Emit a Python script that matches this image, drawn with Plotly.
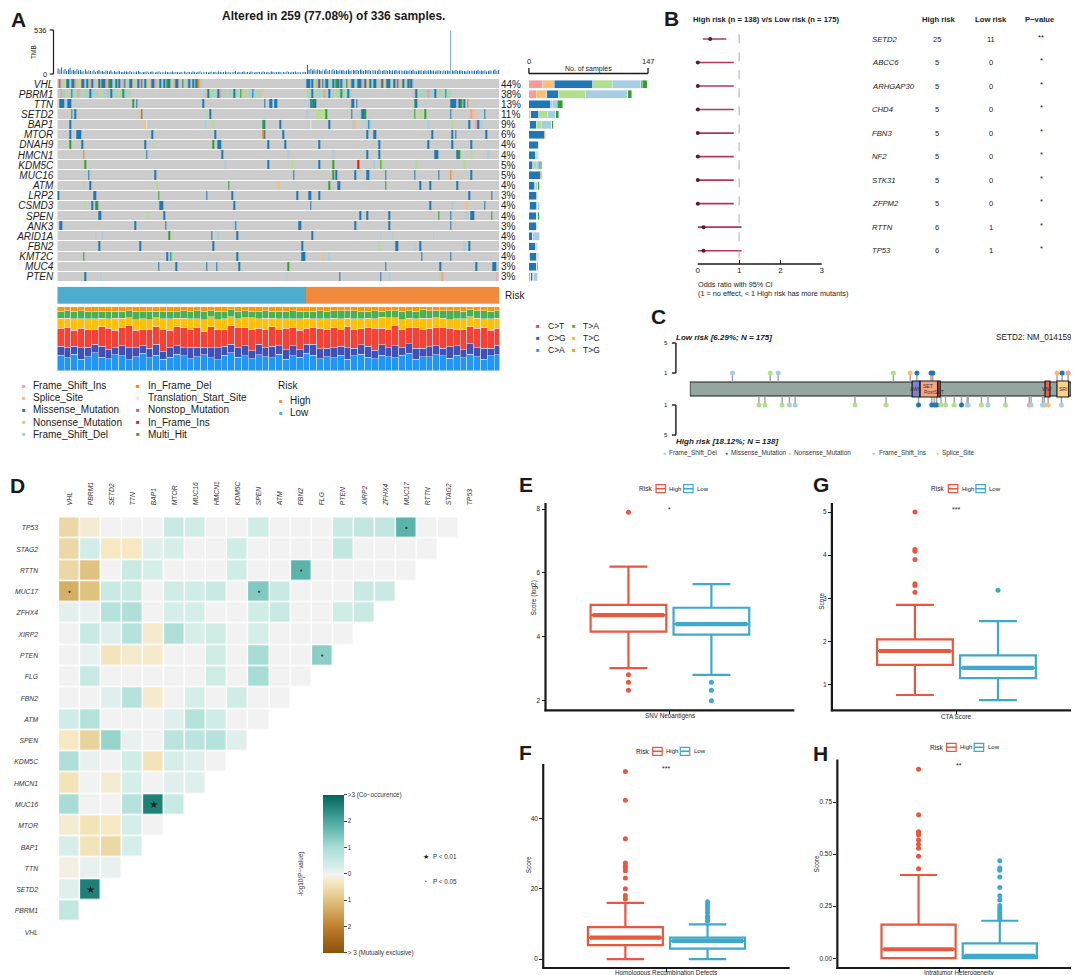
import plotly.graph_objects as go

W, H = 1079, 975
FONT = "Liberation Sans, Arial, sans-serif"
BLACK = "#1a1a1a"

# ======================= DATA =======================
# ---- Panel A : oncoplot ----
genes_a = ["VHL", "PBRM1", "TTN", "SETD2", "BAP1", "MTOR", "DNAH9", "HMCN1", "KDM5C", "MUC16",
           "ATM", "LRP2", "CSMD3", "SPEN", "ANK3", "ARID1A", "FBN2", "KMT2C", "MUC4", "PTEN"]
pct_a = ["44%", "38%", "13%", "11%", "9%", "6%", "4%", "4%", "5%", "5%",
         "4%", "3%", "4%", "4%", "3%", "4%", "3%", "4%", "3%", "3%"]
n_low_a, n_high_a = 146, 113

type_codes = ["I", "S", "M", "N", "D", "F", "R", "O", "T", "H"]
type_names = ["Frame_Shift_Ins", "Splice_Site", "Missense_Mutation", "Nonsense_Mutation", "Frame_Shift_Del",
              "In_Frame_Del", "In_Frame_Ins", "Nonstop_Mutation", "Translation_Start_Site", "Multi_Hit"]
type_colors = ["#FB9A99", "#FDBF6F", "#1F78B4", "#B2DF8A", "#A6CEE3",
               "#FF7F00", "#E31A1C", "#C9566F", "#EFE6EA", "#33A02C"]

vhl_runs = [(0, "IMDSNMMDHMIDNSMMDMNIMDDSMNMMIDHMDNMSMDIMNDMMSDNMIMDMNSDMMIDNMDMSHMDNIMMDSMNDIMDMNMFSD"),
            (146, "MMDMNDIMSMDMMNDMDHMIMDNMSDMMDNMMIDMSNMDMMDNIMSDMMNDMIMDSMNDMFMD")]
pbrm1_runs = [(0, "DNIDDSNDMDNDIDNSDDNMDDNDSDNDDIDMNDDSNDHDDND"),
              (86, "DSMNDDNDMIDNDSDDNMDDNHDSDNDDMDNDDS"),
              (146, "NDDMNSDDNDIDNMDDSNDDHDNDMD"),
              (208, "DIMNDSDDNIDDNMDSDNDHDND")]
ttn_cells = [(1, "M"), (2, "M"), (3, "M"), (5, "D"), (6, "M"), (7, "M"), (44, "H"), (46, "M"), (85, "M"),
             (121, "M"), (124, "M"), (125, "M"), (126, "D"), (127, "M"), (128, "M"), (147, "D"), (148, "M"),
             (149, "H"), (150, "M"), (151, "M"), (172, "M"), (173, "M"), (175, "M"), (209, "H"), (210, "M"),
             (230, "M"), (231, "M"), (232, "M"), (233, "M"), (235, "M"), (236, "H"), (238, "M"), (240, "F")]
setd2_cells = [(8, "H"), (9, "D"), (10, "M"), (48, "S"), (49, "M"), (87, "N"), (89, "M"), (146, "D"),
               (152, "N"), (153, "N"), (154, "N"), (156, "N"), (157, "H"), (172, "M"), (177, "D"), (178, "M"),
               (179, "M"), (180, "H"), (209, "H"), (212, "N"), (213, "N"), (215, "H"), (230, "M"), (242, "I"),
               (243, "S"), (250, "M")]
bap1_cells = [(7, "M"), (51, "S"), (52, "T"), (53, "D"), (86, "D"), (91, "N"), (120, "H"), (121, "M"),
              (130, "M"), (148, "T"), (159, "M"), (173, "D"), (174, "S"), (181, "D"), (182, "M"), (183, "D"),
              (217, "D"), (231, "N"), (241, "M"), (245, "I"), (246, "M"), (248, "D")]
mtor_cells = [(7, "M"), (11, "M"), (12, "M"), (13, "M"), (55, "M"), (92, "M"), (120, "F"), (121, "M"),
              (132, "M"), (181, "M"), (185, "M"), (186, "M"), (219, "M"), (231, "M"), (233, "M"), (251, "M")]
dnah9_cells = [(7, "H"), (14, "M"), (51, "M"), (56, "N"), (91, "H"), (94, "M"), (95, "M"), (123, "M"),
               (133, "M"), (153, "M"), (188, "M"), (217, "M"), (231, "M"), (242, "M")]
hmcn1_cells = [(15, "F"), (52, "M"), (96, "M"), (135, "D"), (161, "D"), (181, "M"), (188, "M"), (221, "M"),
               (222, "M"), (234, "M"), (235, "H"), (242, "N"), (252, "D")]
kdm5c_cells = [(16, "H"), (98, "D"), (123, "M"), (137, "N"), (153, "M"), (161, "H"), (176, "R"), (185, "D"),
               (189, "H"), (190, "N"), (210, "N"), (238, "N")]
muc16_cells = [(18, "M"), (57, "M"), (138, "M"), (161, "H"), (163, "M"), (174, "M"), (181, "M"), (182, "M"),
               (192, "M"), (209, "M"), (223, "M"), (230, "F"), (242, "M")]
atm_cells = [(15, "D"), (19, "M"), (58, "N"), (100, "H"), (129, "S"), (159, "H"), (164, "M"), (165, "M"),
             (192, "H"), (212, "M"), (218, "M"), (234, "M")]
lrp2_cells = [(0, "M"), (21, "M"), (22, "M"), (59, "H"), (87, "M"), (102, "M"), (140, "M"), (147, "M"),
              (148, "M"), (153, "M"), (241, "M"), (254, "M")]
csmd3_cells = [(16, "N"), (20, "M"), (22, "M"), (23, "H"), (60, "M"), (61, "M"), (103, "M"), (148, "M"),
               (218, "M"), (231, "D"), (239, "S"), (250, "M")]
spen_cells = [(24, "M"), (25, "M"), (53, "N"), (62, "M"), (177, "M"), (181, "M"), (194, "M"), (223, "H"),
              (230, "M"), (239, "D"), (242, "M"), (243, "M"), (254, "H")]
ank3_cells = [(1, "M"), (2, "M"), (45, "M"), (63, "M"), (103, "D"), (104, "M"), (141, "M"), (142, "M"),
              (174, "M"), (194, "M"), (230, "M")]
arid1a_cells = [(22, "D"), (26, "D"), (65, "H"), (90, "M"), (94, "D"), (105, "M"), (149, "M"), (189, "D"),
                (196, "D"), (220, "D")]
fbn2_cells = [(24, "M"), (48, "M"), (91, "M"), (143, "M"), (188, "N"), (198, "M"), (199, "M"), (209, "D"),
              (212, "M"), (238, "D"), (241, "M")]
kmt2c_cells = [(15, "H"), (64, "M"), (66, "M"), (67, "N"), (105, "M"), (143, "M"), (144, "M"), (155, "S"),
               (159, "D"), (213, "M"), (230, "M")]
muc4_cells = [(59, "M"), (69, "M"), (87, "M"), (93, "M"), (106, "M"), (135, "H"), (192, "M"), (224, "M"),
              (245, "M"), (255, "M"), (256, "M")]
pten_cells = [(16, "M"), (25, "D"), (134, "D"), (165, "M"), (189, "M"), (194, "D"), (224, "N"), (225, "I"),
              (257, "I")]

# side bar counts (per mutation type, gene order as genes_a)
bar_I = [17, 9, 0, 0, 1, 0, 0, 0, 0, 0, 0, 0, 0, 0, 0, 0, 0, 0, 0, 2]
bar_S = [14, 13, 0, 2, 0, 0, 0, 0, 0, 0, 0, 0, 1, 0, 0, 0, 0, 1, 0, 0]
bar_M = [48, 14, 27, 10, 8, 19, 12, 8, 5, 14, 7, 10, 9, 9, 10, 4, 8, 8, 10, 3]
bar_N = [24, 34, 2, 11, 6, 0, 0, 1, 4, 0, 1, 1, 1, 1, 0, 1, 1, 2, 0, 1]
bar_D = [35, 52, 6, 10, 13, 0, 0, 2, 4, 0, 3, 0, 2, 1, 1, 8, 2, 1, 0, 5]
bar_F = [2, 0, 0, 0, 0, 1, 0, 1, 0, 1, 0, 0, 0, 0, 0, 0, 0, 0, 0, 0]
bar_R = [0, 0, 0, 0, 0, 0, 0, 0, 1, 0, 0, 0, 0, 0, 0, 0, 0, 0, 0, 0]
bar_O = [0] * 20
bar_T = [0] * 20
bar_H = [6, 5, 7, 4, 2, 0, 1, 1, 2, 1, 2, 0, 0, 2, 0, 0, 0, 1, 1, 0]

tmb_low = [70, 55, 80, 48, 62, 40, 58, 75, 45, 52,
           38, 60, 44, 50, 35, 42, 57, 33, 46, 40,
           36, 48, 30, 41, 52, 34, 39, 28, 45, 37,
           31, 43, 29, 38, 26, 35, 41, 30, 27, 36,
           33, 25, 38, 29, 34, 24, 31, 40, 27, 22,
           30, 26, 35, 23, 28, 32, 25, 21, 29, 34,
           24, 27, 22, 31, 26, 20, 28, 33, 23, 25,
           30, 21, 27, 24, 35, 22, 26, 29, 20, 31,
           25, 23, 28, 34, 21, 26, 24, 30, 22, 27,
           36, 25, 29, 23, 31, 26, 22, 28, 33, 24,
           27, 21, 30, 25, 38, 23, 26, 22, 29, 32,
           24, 28, 21, 35, 26, 23, 30, 25, 27, 22,
           31, 26, 24, 29, 23, 34, 27, 22, 28, 25,
           30, 24, 26, 21, 33, 27, 23, 29, 25, 31,
           22, 28, 24, 26, 30, 27]
tmb_high = [110, 52, 65, 48, 58, 44, 60, 50, 42, 55,
            47, 62, 40, 53, 46, 57, 43, 51, 38, 49,
            45, 54, 41, 48, 56, 39, 47, 52, 44, 50,
            42, 58, 46, 40, 53, 45, 49, 37, 51, 43,
            48, 41, 55, 44, 39, 50, 46, 42, 52, 38,
            47, 43, 49, 40, 45, 51, 37, 44, 48, 41,
            46, 39, 50, 42, 36, 47, 43, 53, 40, 45,
            38, 44, 49, 41, 46, 35, 43, 47, 39, 42,
            45, 40, 48, 37, 536, 44, 41, 50, 38, 43,
            46, 39, 42, 36, 47, 40, 44, 38, 45, 41,
            49, 37, 43, 40, 46, 35, 42, 48, 39, 44,
            60, 41, 50]

# mutational spectrum (% per block of 4 samples)
sp_CA = [24, 20, 26, 18, 22, 28, 21, 19, 25, 23, 17, 22, 27,
         20, 24, 18, 21, 26, 23, 19, 22, 25, 20, 17, 24, 28,
         21, 23, 19, 25, 22, 20, 26, 18, 23, 21, 27, 24, 19,
         22, 20, 24, 18, 23, 26, 21, 19, 25, 22, 20, 24, 27,
         18, 22, 21, 25, 23, 19, 24, 20, 26, 22, 18, 23, 25]
sp_CG = [14, 16, 12, 18, 15, 13, 17, 14, 12, 16, 19, 14, 13,
         15, 17, 12, 16, 14, 13, 18, 15, 12, 16, 19, 14, 13,
         15, 17, 12, 16, 14, 18, 13, 15, 16, 12, 14, 17, 15,
         13, 16, 14, 18, 12, 15, 17, 13, 16, 14, 19, 12, 15,
         17, 13, 16, 14, 12, 18, 15, 13, 16, 14, 17, 12, 15]
sp_CT = [28, 32, 25, 30, 27, 24, 31, 33, 26, 29, 34, 27, 25,
         30, 28, 35, 26, 29, 31, 27, 30, 24, 33, 28, 26, 29,
         32, 27, 34, 25, 29, 31, 26, 33, 28, 30, 25, 27, 32,
         29, 31, 27, 33, 29, 26, 30, 34, 27, 29, 31, 28, 25,
         32, 30, 27, 29, 33, 28, 26, 31, 27, 30, 32, 28, 26]
sp_TC = [16, 14, 18, 15, 17, 16, 13, 15, 19, 14, 13, 17, 16,
         15, 14, 16, 18, 13, 15, 17, 14, 19, 15, 16, 17, 14,
         13, 16, 18, 15, 17, 13, 16, 15, 14, 18, 16, 13, 15,
         17, 15, 16, 13, 17, 16, 14, 15, 17, 18, 13, 16, 15,
         14, 17, 16, 15, 14, 13, 16, 17, 15, 16, 14, 18, 16]
sp_TA = [11, 12, 12, 13, 12, 12, 11, 12, 11, 11, 11, 13, 12,
         13, 10, 12, 12, 11, 12, 12, 13, 12, 10, 13, 12, 11,
         12, 11, 10, 12, 12, 11, 12, 12, 13, 12, 11, 12, 13,
         12, 12, 13, 12, 13, 11, 11, 13, 10, 11, 11, 13, 12,
         12, 13, 12, 11, 12, 14, 13, 12, 11, 12, 13, 12, 12]
sp_TG = [7, 6, 7, 6, 7, 7, 7, 7, 7, 7, 6, 7, 7,
         7, 7, 7, 7, 7, 6, 7, 6, 8, 6, 7, 7, 5,
         7, 6, 7, 7, 6, 7, 7, 7, 6, 7, 7, 7, 6,
         7, 6, 6, 6, 6, 8, 7, 6, 7, 6, 6, 7, 6,
         7, 5, 6, 6, 6, 6, 6, 7, 5, 6, 6, 7, 6]
spec_names = ["C>T", "C>G", "C>A", "T>A", "T>C", "T>G"]
spec_colors = {"C>T": "#F44336", "C>G": "#3F51B5", "C>A": "#2196F3",
               "T>A": "#4CAF50", "T>C": "#FFC107", "T>G": "#FF9800"}

# ---- Panel B : forest ----
forest_genes = ["SETD2", "ABCC6", "ARHGAP30", "CHD4", "FBN3", "NF2", "STK31", "ZFPM2", "RTTN", "TP53"]
forest_or = [0.30, 0, 0, 0, 0, 0, 0, 0, 0.14, 0.14]
forest_lo = [0.12, 0, 0, 0, 0, 0, 0, 0, 0, 0]
forest_hi = [0.69, 0.87, 0.87, 0.87, 0.87, 0.87, 0.87, 0.87, 1.06, 1.06]
forest_high_n = [25, 5, 5, 5, 5, 5, 5, 5, 6, 6]
forest_low_n = [11, 0, 0, 0, 0, 0, 0, 0, 1, 1]
forest_p = ["**", "*", "*", "*", "*", "*", "*", "*", "*", "*"]

# ---- Panel C : lollipop ----
prot_len = 2564
dom_names = ["AWS", "SET", "PostSET", "WW", "SRI"]
dom_start = [1495, 1549, 1668, 2389, 2469]
dom_end = [1547, 1666, 1684, 2422, 2548]
dom_colors = ["#7B82D2", "#F4A582", "#D8504A", "#E8604C", "#F6D28C"]
low_pos = [287, 541, 594, 1369, 1482, 1527, 1622, 1634, 2470, 2504, 2544]
low_type = ["D", "N", "D", "N", "S", "M", "M", "M", "S", "M", "I"]
high_pos = [465, 505, 621, 670, 708, 1111, 1320, 1538, 1627, 1645, 1660, 1689, 1720, 1778, 1827,
            1865, 1872, 1961, 2005, 2123, 2283, 2295, 2372, 2384, 2410, 2499]
high_type = ["N", "N", "N", "D", "D", "N", "N", "M", "M", "M", "M", "N", "N", "N", "M",
             "D", "D", "N", "D", "N", "I", "D", "D", "D", "S", "D"]

# ---- Panel D : co-occurrence ----
genes_d = ["VHL", "PBRM1", "SETD2", "TTN", "BAP1", "MTOR", "MUC16", "HMCN1", "KDM5C", "SPEN",
           "ATM", "FBN2", "FLG", "PTEN", "XIRP2", "ZFHX4", "MUC17", "RTTN", "STAG2", "TP53"]
# rows from top (TP53) down to PBRM1; values for columns VHL... (signed -log10 P)
cooc_rows = [
    [-0.6, -0.2, 0, 0, 0, 0.5, 0.4, 0, 0, 0.4, 0, 0, 0, 0.5, 0.6, 0.6, 1.8, 0, 0],
    [-0.6, 0.35, -0.3, -0.3, 0.2, 0.3, 0, 0, 0.4, 0, 0, 0, 0, 0.6, 0, 0, 0, 0],
    [-0.6, -1.0, 0, 0.5, 0.3, 0, 0, 0, 0.4, 0, 0, 1.8, 0, 0, 0, 0, 0],
    [-1.3, -1.0, 0.5, 0.5, 0, 0.4, 0.4, 0.5, 0, 1.4, 0.5, 0, 0, 0, 0.5, 0.5],
    [0.15, 0.1, 0.8, 0.9, 0, 0.3, 0.3, 0, 0, 0.4, 0.5, 0, 0, 0.4, 0.5],
    [0, 0.5, 0.2, 0.8, -0.25, 0.9, 0.3, 0.4, 0, 0.3, 0, 0, 0, 0],
    [0, 0.1, -0.35, -0.25, -0.25, 0, 0, 0.4, 0, 1.0, 0, 0, 1.3],
    [0, 0.5, 0, 0, 0, 0, 0, 0.4, 0, 1.0, 0, 0],
    [0, 0, 0.2, 0.8, -0.25, 0, 0.3, 0, 0.4, 0, 0],
    [0.4, 0.8, 0, 0, 0, 0.2, 0.8, 0.4, 0, 0],
    [-0.3, -0.7, 1.2, 0.1, 0, 0.7, 0.7, 0.8, 0.2],
    [0.9, 0.1, 0, 0.4, -0.4, 0.3, 0.2, 0],
    [-0.4, 0, -0.2, 0.3, 0, 0.2, 0.2],
    [1.0, 0, 0, 0.8, 2.6, 0.5],
    [-0.2, -0.4, -0.3, 0.3, 0],
    [0.3, -0.4, -0.6, 0.3],
    [-0.1, 0.1, 0.1],
    [0.2, 2.6],
    [0.6],
]
sig01_col = [4, 1]
sig01_row = [6, 2]
sig05_col = [16, 11, 0, 9, 12]
sig05_row = [19, 17, 16, 16, 13]

# ---- Panels E-H : boxplot summary statistics (High, Low) ----
e_stats = dict(q1=[4.16, 4.07], med=[4.68, 4.40], q3=[5.0, 4.91], lo=[3.02, 2.81], hi=[6.2, 5.65])
e_out_high = [7.9, 2.81, 2.58, 2.33]
e_out_low = [2.58, 2.33, 2.0]
g_stats = dict(q1=[1.46, 1.15], med=[1.78, 1.39], q3=[2.05, 1.68], lo=[0.76, 0.64], hi=[2.85, 2.47])
g_out_high = [5.0, 4.13, 4.09, 3.9, 3.34, 3.3, 3.14]
g_out_low = [3.19]
f_stats = dict(q1=[3.95, 3.0], med=[6.1, 5.2], q3=[9.1, 6.1], lo=[0, 0], hi=[16.0, 9.9])
f_out_high = [53.4, 45.2, 34.2, 27.3, 26.5, 25.9, 25.1, 23.1, 20.0, 18.1, 17.1]
f_out_low = [16.3, 15.5, 14.8, 14.0, 13.2, 12.2, 11.6, 10.8]
h_stats = dict(q1=[0, 0], med=[0.043, 0.011], q3=[0.161, 0.071], lo=[0, 0], hi=[0.40, 0.18])
h_out_high = [0.908, 0.69, 0.608, 0.60, 0.592, 0.568, 0.548, 0.529, 0.49, 0.43]
h_out_low = [0.469, 0.434, 0.423, 0.39, 0.34, 0.30, 0.28, 0.253, 0.24, 0.229, 0.216, 0.205, 0.194, 0.185]

LOW_C, HIGH_C = "#4DADCF", "#F28A3E"
BOX_HIGH, BOX_LOW = "#E8573E", "#3FA9CD"
FOREST_C = "#B3365B"

# ======================= FIGURE =======================
fig = go.Figure()
layout = dict(width=W, height=H, margin=dict(l=0, r=0, t=0, b=0), paper_bgcolor="white",
              plot_bgcolor="rgba(0,0,0,0)", showlegend=False, barmode="stack",
              font=dict(family=FONT, color=BLACK))
ann, shp = [], []


def axname(n, letter):
    return f"{letter}axis" if n == 1 else f"{letter}axis{n}"


def ref(n, letter):
    return letter if n == 1 else f"{letter}{n}"


def set_axes(n, xdom, ydom, xa=None, ya=None):
    base = dict(showgrid=False, zeroline=False, showticklabels=False, showline=False, ticks="", fixedrange=True)
    xd = dict(base, domain=[xdom[0] / W, xdom[1] / W], anchor=ref(n, "y"))
    yd = dict(base, domain=[1 - ydom[1] / H, 1 - ydom[0] / H], anchor=ref(n, "x"))
    if xa:
        xd.update(xa)
    if ya:
        yd.update(ya)
    layout[axname(n, "x")] = xd
    layout[axname(n, "y")] = yd


def text(x, y, s, size, xanchor="center", yanchor="middle", color=BLACK, angle=0, xref="paper", yref="paper"):
    xx = x / W if xref == "paper" else x
    yy = 1 - y / H if yref == "paper" else y
    ann.append(dict(x=xx, y=yy, xref=xref, yref=yref, text=s, showarrow=False, xanchor=xanchor,
                    yanchor=yanchor, textangle=angle, borderpad=0,
                    font=dict(size=size, color=color, family=FONT)))


def pline(x0, y0, x1, y1, color=BLACK, width=1.0, dash=None):
    shp.append(dict(type="line", xref="paper", yref="paper", x0=x0 / W, x1=x1 / W, y0=1 - y0 / H,
                    y1=1 - y1 / H, line=dict(color=color, width=width, dash=dash)))


def prect(x0, y0, x1, y1, line_color, fill="white", width=1.0):
    shp.append(dict(type="rect", xref="paper", yref="paper", x0=x0 / W, x1=x1 / W, y0=1 - y1 / H,
                    y1=1 - y0 / H, line=dict(color=line_color, width=width), fillcolor=fill))


code_color = dict(zip(type_codes, type_colors))
N_A = n_low_a + n_high_a
samples = list(range(N_A))

# ---------------- Panel A ----------------
text(9, 11, "<b>A</b>", 21)
text(325, 8, "<b>Altered in 259 (77.08%) of 336 samples.</b>", 12)

# TMB
set_axes(1, (47.5, 491.7), (22, 66), xa=dict(range=[-0.5, N_A - 0.5]), ya=dict(range=[0, 536]))
fig.add_trace(go.Bar(x=samples, y=tmb_low + tmb_high, width=0.85, marker=dict(color="#1F78B4"),
                     xaxis="x", yaxis="y", hoverinfo="skip"))
pline(43.7, 22, 43.7, 66, width=1.2)
pline(40, 22, 43.7, 22, width=1.2)
pline(40, 66, 43.7, 66, width=1.2)
text(38, 22, "536", 7.5, xanchor="right")
text(38, 66, "0", 7.5, xanchor="right")
text(23, 44, "TMB", 6.5, angle=-90)

# oncoplot matrix
code_index = {c: i + 1 for i, c in enumerate(type_codes)}
z_onco = [[0] * N_A for _ in genes_a]
for start, s in vhl_runs:
    for k, ch in enumerate(s):
        z_onco[0][start + k] = code_index[ch]
for start, s in pbrm1_runs:
    for k, ch in enumerate(s):
        z_onco[1][start + k] = code_index[ch]
other_cells = [ttn_cells, setd2_cells, bap1_cells, mtor_cells, dnah9_cells, hmcn1_cells, kdm5c_cells,
               muc16_cells, atm_cells, lrp2_cells, csmd3_cells, spen_cells, ank3_cells, arid1a_cells,
               fbn2_cells, kmt2c_cells, muc4_cells, pten_cells]
for gi, cells in enumerate(other_cells, start=2):
    for idx, ch in cells:
        z_onco[gi][idx] = code_index[ch]

onco_colors = ["#CCCCCC"] + type_colors
nc = len(onco_colors)
cs = []
for k, c in enumerate(onco_colors):
    cs += [[k / nc, c], [(k + 1) / nc, c]]
set_axes(2, (47.5, 491.7), (71, 274), xa=dict(range=[-0.5, N_A - 0.5]),
         ya=dict(range=[len(genes_a) - 0.5, -0.5], showticklabels=True, tickvals=list(range(len(genes_a))),
                 ticktext=[f"<i>{g}</i>" for g in genes_a], tickfont=dict(size=10, color=BLACK),
                 ticklabelstandoff=3))
fig.add_trace(go.Heatmap(z=z_onco, x=samples, y=list(range(len(genes_a))), colorscale=cs, zmin=-0.5,
                         zmax=nc - 0.5, showscale=False, ygap=1, xgap=0, xaxis="x2", yaxis="y2",
                         hoverinfo="skip"))
for r, p in enumerate(pct_a):
    text(492.5, r, p, 10, xanchor="left", xref="paper", yref="y2")

# side bar
set_axes(3, (521.3, 641), (71, 274), xa=dict(range=[0, 147]), ya=dict(range=[len(genes_a) - 0.5, -0.5]))
bar_counts = [bar_I, bar_S, bar_M, bar_N, bar_D, bar_F, bar_R, bar_O, bar_T, bar_H]
for code, counts in zip(type_codes, bar_counts):
    fig.add_trace(go.Bar(y=list(range(len(genes_a))), x=counts, orientation="h", width=0.78,
                         marker=dict(color=code_color[code]), xaxis="x3", yaxis="y3", hoverinfo="skip"))
pline(521.3, 65.5, 641, 65.5, width=1.3)
pline(521.3, 60, 521.3, 65.5, width=1.3)
pline(641, 60, 641, 65.5, width=1.3)
text(521.3, 53.5, "0", 7.5)
text(641, 53.5, "147", 7.5)
text(581, 60.5, "No. of samples", 7)

# risk bar
set_axes(4, (47.5, 491.7), (278.7, 296), xa=dict(range=[-0.5, N_A - 0.5]), ya=dict(range=[-0.5, 0.5]))
fig.add_trace(go.Heatmap(z=[[0] * n_low_a + [1] * n_high_a], x=samples, y=[0],
                         colorscale=[[0, LOW_C], [0.5, LOW_C], [0.5, HIGH_C], [1, HIGH_C]], zmin=0, zmax=1,
                         showscale=False, xaxis="x4", yaxis="y4", hoverinfo="skip"))
text(496, 287.5, "Risk", 10, xanchor="left")

# spectrum
set_axes(5, (47.5, 491.7), (298.7, 362.7), xa=dict(range=[-0.5, N_A - 0.5]), ya=dict(range=[0, 100]))
nb = len(sp_CA)
bx = [4 * k + 1.5 for k in range(nb)]
tot = [sp_CA[k] + sp_CG[k] + sp_CT[k] + sp_TC[k] + sp_TA[k] + sp_TG[k] for k in range(nb)]
for name, vals in [("C>A", sp_CA), ("C>G", sp_CG), ("C>T", sp_CT), ("T>C", sp_TC), ("T>A", sp_TA),
                   ("T>G", sp_TG)]:
    fig.add_trace(go.Bar(x=bx, y=[v / t * 100 for v, t in zip(vals, tot)], width=4,
                         marker=dict(color=spec_colors[name]), xaxis="x5", yaxis="y5", hoverinfo="skip"))
for i, name in enumerate(spec_names):
    col = i // 3
    row = i % 3
    yy = [317.7, 330, 341.7][row]
    sx = 530.5 if col == 0 else 566.5
    text(sx, yy, "■", 6, color=spec_colors[name])
    text(sx + 8.5, yy, name, 8.5, xanchor="left")

# mutation legend
order1 = ["Frame_Shift_Ins", "Splice_Site", "Missense_Mutation", "Nonsense_Mutation", "Frame_Shift_Del"]
order2 = ["In_Frame_Del", "Translation_Start_Site", "Nonstop_Mutation", "In_Frame_Ins", "Multi_Hit"]
for nm, colr in zip(type_names, type_colors):
    if nm in order1:
        sx, row = 13.6, order1.index(nm)
    else:
        sx, row = 129, order2.index(nm)
    yy = 377.7 + 12.1 * row
    text(sx, yy, "■", 6, color=colr)
    text(sx + 8.5, yy, nm, 10, xanchor="left")
text(268.6, 377.2, "Risk", 10, xanchor="left")
text(272, 392.7, "■", 6, color=HIGH_C)
text(280.6, 392.7, "High", 10, xanchor="left")
text(272, 404.7, "■", 6, color=LOW_C)
text(280.6, 404.7, "Low", 10, xanchor="left")

# ---------------- Panel B ----------------
text(664.5, 10.5, "<b>B</b>", 21)
nf = len(forest_genes)
set_axes(6, (691, 815.5), (19.24, 256),
         xa=dict(range=[0, 3], ticks="inside", ticklen=4, tickcolor=BLACK, tickwidth=1.3,
                 showticklabels=True, tickvals=[0, 1, 2, 3], tickfont=dict(size=8, color=BLACK)),
         ya=dict(range=[nf - 0.434, -0.5]))
pline(691, 256, 815.5, 256, width=1.5)
shp.append(dict(type="line", xref="x6", yref="y6", x0=1, x1=1, y0=-0.2, y1=nf - 0.7,
                line=dict(color="#AAAAAA", width=1, dash="dash")))
fig.add_trace(go.Scatter(x=forest_or, y=list(range(nf)), mode="markers",
                         marker=dict(size=4, color="#5C1A2E"),
                         error_x=dict(type="data", symmetric=False,
                                      array=[h - o for h, o in zip(forest_hi, forest_or)],
                                      arrayminus=[o - l for o, l in zip(forest_or, forest_lo)],
                                      color=FOREST_C, thickness=1.6, width=0),
                         cliponaxis=False, xaxis="x6", yaxis="y6", hoverinfo="skip"))
text(685, 11.3, "<b>High risk (n = 138) v/s Low risk (n = 175)</b>", 7.7, xanchor="left")
text(933, 11.3, "<b>High risk</b>", 7.7)
text(986, 11.3, "<b>Low risk</b>", 7.7)
text(1035, 11.3, "<b>P\u2212value</b>", 7.7)
for i in range(nf):
    text(865, i, f"<i>{forest_genes[i]}</i>", 7.7, xanchor="left", yref="y6")
    text(931, i, str(forest_high_n[i]), 7.5, yref="y6")
    text(986, i, str(forest_low_n[i]), 7.5, yref="y6")
    text(1036, i - 0.08, forest_p[i], 7.5, yref="y6")
text(690, 276.7, "Odds ratio with 95% CI", 7.3, xanchor="left")
text(690, 285.7, "(1 = no effect, < 1 High risk has more mutants)", 7.3, xanchor="left")

# ---------------- Panel C ----------------
text(651.5, 309, "<b>C</b>", 21)
HB, DB, OFF = 0.933, 1.067, 1.133
set_axes(7, (683, 1066), (329, 433), xa=dict(range=[0, prot_len]), ya=dict(range=[-6.933, 6.933]))
sx_, sy_ = [], []
for p in low_pos:
    sx_ += [p, p, None]
    sy_ += [HB, OFF + 1, None]
for p in high_pos:
    sx_ += [p, p, None]
    sy_ += [-HB, -(OFF + 1), None]
fig.add_trace(go.Scatter(x=sx_, y=sy_, mode="lines", line=dict(color="#A0A0A0", width=1.4),
                         xaxis="x7", yaxis="y7", hoverinfo="skip"))
shp.append(dict(type="rect", xref="x7", yref="y7", x0=0, x1=prot_len, y0=-HB, y1=HB,
                fillcolor="#95A6A0", line=dict(color=BLACK, width=1.2), layer="below"))
for nm, a, b, c in zip(dom_names, dom_start, dom_end, dom_colors):
    shp.append(dict(type="rect", xref="x7", yref="y7", x0=a, x1=b, y0=-DB, y1=DB,
                    fillcolor=c, line=dict(color=BLACK, width=1.2)))
fig.add_trace(go.Scatter(x=low_pos + high_pos, y=[OFF + 1] * len(low_pos) + [-(OFF + 1)] * len(high_pos),
                         mode="markers",
                         marker=dict(size=5, color=[code_color[t] for t in low_type + high_type]),
                         cliponaxis=False, xaxis="x7", yaxis="y7", hoverinfo="skip"))
text(1519, 0.0, "AWS", 5, xref="x7", yref="y7", color="#333333")
text(1600, 0.45, "SET", 5, xref="x7", yref="y7", color="#333333")
text(1640, -0.4, "PostSET", 5, xref="x7", yref="y7", color="#333333")
text(2405, 0.0, "WW", 5, xref="x7", yref="y7", color="#333333")
text(2508, 0.0, "SRI", 5, xref="x7", yref="y7", color="#333333")
text(1070.5, 394, "2564", 5, angle=-90, color="#333333")
for sgn in (1, -1):
    shp.append(dict(type="line", xref="paper", yref="y7", x0=669 / W, x1=669 / W,
                    y0=sgn * (OFF + 1), y1=sgn * (OFF + 5), line=dict(color=BLACK, width=1.4)))
    for c in (1, 5):
        shp.append(dict(type="line", xref="paper", yref="y7", x0=665 / W, x1=669 / W,
                        y0=sgn * (OFF + c), y1=sgn * (OFF + c), line=dict(color=BLACK, width=1.4)))
        text(659, sgn * (OFF + c), str(c), 6, yref="y7")
text(668, 329, "<b><i>Low risk [6.29%; N = 175]</i></b>", 8, xanchor="left")
text(1068, 329.3, "SETD2: NM_014159", 8.2, xanchor="right")
text(668, 433.5, "<b><i>High risk [18.12%; N = 138]</i></b>", 8, xanchor="left")
for code, dx, tx, lab in [("D", 657.7, 661.5, "Frame_Shift_Del"), ("M", 720, 723.5, "Missense_Mutation"),
                          ("N", 782.7, 786.5, "Nonsense_Mutation"), ("I", 868, 872, "Frame_Shift_Ins"),
                          ("S", 931.7, 935.5, "Splice_Site")]:
    text(dx, 444.5, "●", 5, color=code_color[code])
    text(tx, 444.5, lab, 6.4, xanchor="left", color="#333333")

# ---------------- Panel D ----------------
text(8, 477, "<b>D</b>", 21)
nd = len(genes_d)
z_d = [[None] * nd for _ in range(nd)]
for k, vals in enumerate(cooc_rows):
    r = nd - 1 - k
    for c, v in enumerate(vals):
        z_d[r][c] = v
brbg = [[0.0, "#8C510A"], [0.17, "#BF812D"], [0.33, "#DFC27D"], [0.45, "#F6E8C3"], [0.5, "#F2F2F2"],
        [0.55, "#D5EEEA"], [0.667, "#A8DDD5"], [0.8, "#5AB4AC"], [1.0, "#01665E"]]
set_axes(8, (49.3, 472.3), (509.3, 934.9),
         xa=dict(range=[-0.5, nd - 0.5], side="top", showticklabels=True, tickvals=list(range(nd)),
                 ticktext=[f"<i>{g}</i>" for g in genes_d], tickangle=-90,
                 tickfont=dict(size=6.8, color="#333333"), ticklabelstandoff=11),
         ya=dict(range=[-0.5, nd - 0.5], showticklabels=True, tickvals=list(range(nd)),
                 ticktext=[f"<i>{g}</i>" for g in genes_d], tickfont=dict(size=6.8, color="#333333"),
                 ticklabelstandoff=20))
fig.add_trace(go.Heatmap(z=z_d, x=list(range(nd)), y=list(range(nd)), colorscale=brbg, zmin=-3, zmax=3,
                         xgap=1.5, ygap=1.5, xaxis="x8", yaxis="y8", hoverinfo="skip",
                         colorbar=dict(x=314 / W, xanchor="left", xpad=0, ypad=0, y=1 - 865.9 / H,
                                       yanchor="middle", len=158.3 / H, lenmode="fraction", thickness=21,
                                       thicknessmode="pixels", outlinewidth=0,
                                       tickvals=[-3, -2, -1, 0, 1, 2, 3],
                                       ticktext=["> 3 (Mutually exclusive)", "2", "1", "0", "1", "2",
                                                 ">3 (Co\u2212occurence)"],
                                       ticks="outside", ticklen=3, tickcolor="#444444",
                                       tickfont=dict(size=6.3, color="#333333"))))
fig.add_trace(go.Scatter(x=sig01_col, y=sig01_row, mode="markers",
                         marker=dict(symbol="star", size=6, color="#222222"),
                         xaxis="x8", yaxis="y8", hoverinfo="skip"))
fig.add_trace(go.Scatter(x=sig05_col, y=sig05_row, mode="markers",
                         marker=dict(symbol="circle", size=2.2, color="#333333"),
                         xaxis="x8", yaxis="y8", hoverinfo="skip"))
text(292.7, 866, "-log10(P\u2212value)", 6.3, angle=-90, color="#333333")
text(418.3, 848.3, "★", 6.5, color="#222222")
text(423.5, 848.3, "P < 0.01", 6.3, xanchor="left", color="#333333")
text(418.3, 873.3, "•", 4.5, color="#333333")
text(423.5, 873.3, "P < 0.05", 6.3, xanchor="left", color="#333333")


# ---------------- Panels E-H ----------------
def box_legend(cx, cy):
    text(cx - 20, cy, "Risk", 6.5, xanchor="right")
    for x0, lab, col in [(cx - 17, "High", BOX_HIGH), (cx + 10.7, "Low", BOX_LOW)]:
        prect(x0, cy - 4, x0 + 9.5, cy + 4, col, width=1.2)
        pline(x0, cy, x0 + 9.5, cy, color=col, width=1.6)
        text(x0 + 12.5, cy, lab, 6, xanchor="left")


def box_panel(n, xdom, ydom, yr, tv, tt, xlabel, st, out_h, out_l, sig, sigy, letter, lpos, legpos,
              ytitle, ytpos, xlab_y):
    xr, yrf = ref(n, "x"), ref(n, "y")
    set_axes(n, xdom, ydom,
             xa=dict(range=[-0.6, 0.6], ticks="outside", ticklen=2.5, tickcolor=BLACK, tickwidth=1,
                     tickvals=[0]),
             ya=dict(range=yr, ticks="outside", ticklen=3, tickcolor=BLACK, tickwidth=1,
                     showticklabels=True, tickvals=tv, ticktext=tt, tickfont=dict(size=6.5, color=BLACK)))
    # axis lines (ggplot classic)
    pline(xdom[0], ydom[0], xdom[0], ydom[1] + 1, width=2.2)
    pline(xdom[0] - 1, ydom[1], xdom[1], ydom[1], width=2.2)
    text((xdom[0] + xdom[1]) / 2, xlab_y, xlabel, 6.3)
    bw = 0.365
    for j, (pos, col, outs) in enumerate([(-0.2, BOX_HIGH, out_h), (0.2, BOX_LOW, out_l)]):
        fig.add_trace(go.Box(x=[pos], q1=[st["q1"][j]], median=[st["med"][j]], q3=[st["q3"][j]],
                             lowerfence=[st["lo"][j]], upperfence=[st["hi"][j]], width=bw,
                             orientation="v", fillcolor="white", line=dict(color=col, width=2.2),
                             boxpoints=False, xaxis=xr, yaxis=yrf, hoverinfo="skip"))
        fig.add_trace(go.Scatter(x=[pos - bw / 2 + 0.01, pos + bw / 2 - 0.01], y=[st["med"][j]] * 2,
                                 mode="lines", line=dict(color=col, width=4.2), xaxis=xr, yaxis=yrf,
                                 hoverinfo="skip"))
        fig.add_trace(go.Scatter(x=[pos] * len(outs), y=outs, mode="markers",
                                 marker=dict(size=5, color=col), cliponaxis=False,
                                 xaxis=xr, yaxis=yrf, hoverinfo="skip"))
    text(0, sigy, sig, 7, xref=xr, yref=yrf)
    text(lpos[0], lpos[1], f"<b>{letter}</b>", 21)
    box_legend(*legpos)
    text(ytpos[0], ytpos[1], ytitle, 6.5, angle=-90)


box_panel(9, (538, 788), (495, 702.3), [1.70, 8.19], [2, 4, 6, 8], ["2", "4", "6", "8"],
          "SNV Neoantigens", e_stats, e_out_high, e_out_low, "*", 8.0, "E", (518.3, 476.5),
          (666, 480.7), "Score (log2)", (526, 590), 708.2)
box_panel(10, (825.7, 1076), (495, 702.3), [0.405, 5.21], [1, 2, 3, 4, 5], ["1", "2", "3", "4", "5"],
          "CTA Score", g_stats, g_out_high, g_out_low, "***", 5.05, "G", (814.5, 476.5),
          (959.7, 480.7), "Score", (814.6, 593), 708.2)
box_panel(11, (535.7, 783.3), (756, 960), [-2.54, 55.5], [0, 20, 40], ["0", "20", "40"],
          "Homologous Recombination Defects", f_stats, f_out_high, f_out_low, "***", 54.1, "F",
          (517.5, 744), (662.7, 743.3), "Score", (520.7, 857), 965.2)
box_panel(12, (831.2, 1076), (751.5, 960), [-0.047, 0.955], [0, 0.25, 0.5, 0.75],
          ["0.00", "0.25", "0.50", "0.75"], "Intratumor Heterogeneity", h_stats, h_out_high, h_out_low,
          "**", 0.924, "H", (814.5, 745), (958, 739.3), "Score", (810.2, 856), 965.2)

layout["annotations"] = ann
layout["shapes"] = shp
fig.update_layout(**layout)
fig.write_html("out.html")
